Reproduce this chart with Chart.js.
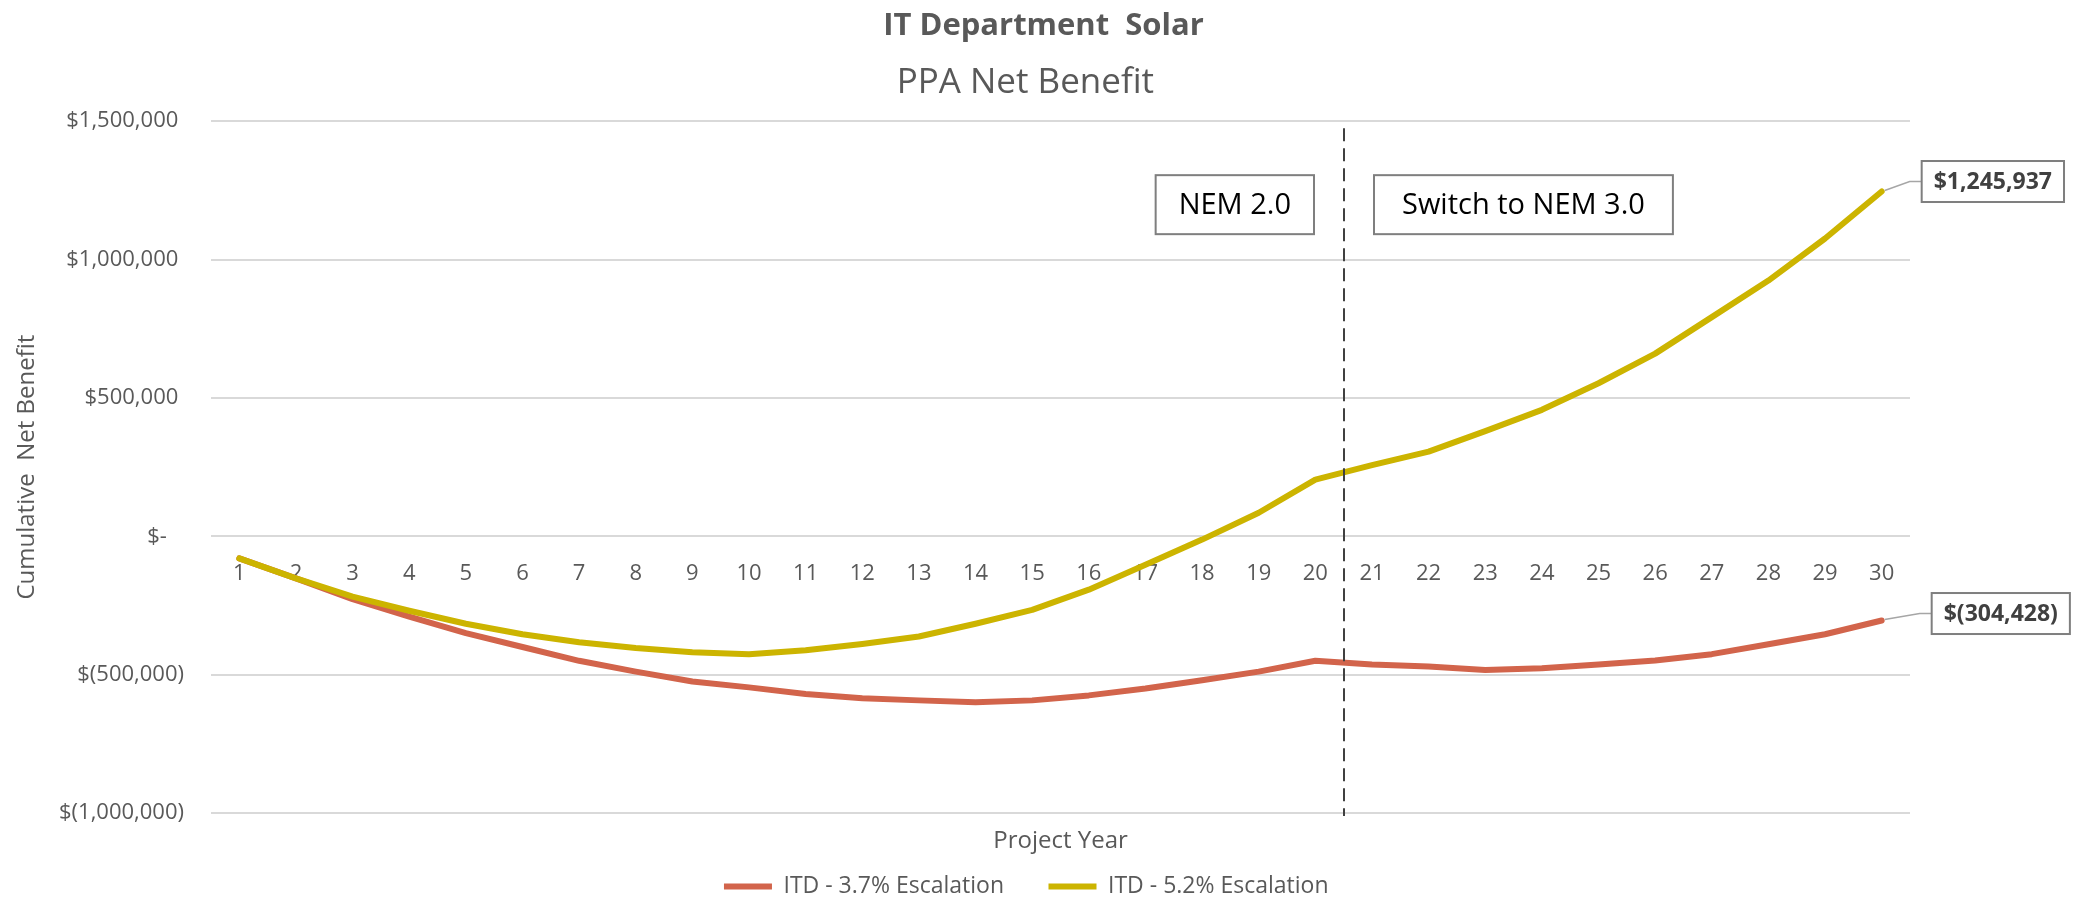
<!DOCTYPE html>
<html>
<head>
<meta charset="utf-8">
<title>IT Department Solar - PPA Net Benefit</title>
<script src="https://cdn.jsdelivr.net/npm/chart.js@4.4.1/dist/chart.umd.min.js"></script>
<style>
  html, body { margin: 0; padding: 0; background: #fff; overflow: hidden; }
  #wrap { width: 2087px; height: 897px; }
</style>
</head>
<body>
<div id="wrap"><canvas id="ppaChart" width="2087" height="897"></canvas></div>
<script>
// project years 1..30
const years = ['1','2','3','4','5','6','7','8','9','10','11','12','13','14','15',
               '16','17','18','19','20','21','22','23','24','25','26','27','28','29','30'];

// cumulative net benefit, 3.7% escalation
const esc37 = [-80000, -152000, -227000, -290000, -350000, -400000, -450000, -489000, -525000, -546000,
               -570000, -585000, -593000, -600000, -593000, -575000, -550000, -520000, -489000, -450000,
               -463000, -471000, -483000, -477000, -463000, -449000, -426000, -390000, -354000, -304428];

// cumulative net benefit, 5.2% escalation
const esc52 = [-80000, -152000, -218000, -269000, -316000, -354000, -383000, -404000, -419000, -426000,
               -412000, -389000, -362000, -316000, -266000, -193000, -103000, -12000, 85000, 205000,
               257000, 306000, 380000, 457000, 553000, 660000, 792000, 924000, 1076000, 1245937];

const seriesNames = ['ITD - 3.7% Escalation', 'ITD - 5.2% Escalation'];
const yMin = -1000000, yMax = 1500000, yStep = 500000;
const switchYear = '20';            // dashed line sits between year 20 and 21
const notes = ['NEM 2.0', 'Switch to NEM 3.0'];

const RED = '#D2644B';
const GOLD = '#CCB400';
const GREY = '#595959';
const FONT = "'Open Sans', 'Noto Sans', sans-serif";

Chart.defaults.font.family = FONT;
Chart.defaults.color = GREY;

function money(v) {
    if (v === 0) return '$-   ';
    const s = Math.abs(v).toLocaleString('en-US');
    return v < 0 ? '$(' + s + ')' : '$' + s + ' ';
}

function box(ctx, x, y, w, h, text, font, color) {
    ctx.fillStyle = '#ffffff';
    ctx.fillRect(x, y, w, h);
    ctx.strokeStyle = '#7F7F7F';
    ctx.lineWidth = 2;
    ctx.strokeRect(x, y, w, h);
    ctx.font = font;
    ctx.fillStyle = color;
    ctx.textAlign = 'center';
    ctx.textBaseline = 'middle';
    ctx.fillText(text, x + w / 2, y + h / 2 + 1);
}

// dashed divider, the two NEM boxes and the end-value call-outs
const notesPlugin = {
    id: 'nemNotes',
    afterDatasetsDraw(chart) {
        const {ctx, chartArea, scales: {x, y}} = chart;
        const i = years.indexOf(switchYear);
        const dx = Math.round((x.getPixelForValue(i) + x.getPixelForValue(i + 1)) / 2);

        ctx.save();
        ctx.strokeStyle = '#404040';
        ctx.lineWidth = 2;
        ctx.setLineDash([13, 7]);
        ctx.beginPath();
        ctx.moveTo(dx, chartArea.top + 7);
        ctx.lineTo(dx, chartArea.bottom + 3);
        ctx.stroke();
        ctx.setLineDash([]);

        const noteFont = '29px ' + FONT;
        ctx.font = noteFont;
        const top = y.getPixelForValue(1305000);
        const w1 = ctx.measureText(notes[0]).width + 46;
        const w2 = ctx.measureText(notes[1]).width + 56;
        box(ctx, dx - 30 - w1, top, w1, 59, notes[0], noteFont, '#000000');
        box(ctx, dx + 30, top, w2, 59, notes[1], noteFont, '#000000');

        // call-outs on the last point of each series
        const valFont = 'bold 23px ' + FONT;
        const calls = [
            {ds: 1, rise: 10, gap: 40},
            {ds: 0, rise: 7, gap: 50}
        ];
        calls.forEach(c => {
            const data = chart.data.datasets[c.ds].data;
            const pt = chart.getDatasetMeta(c.ds).data[data.length - 1];
            const text = money(data[data.length - 1]).trim();
            ctx.font = valFont;
            const w = ctx.measureText(text).width + 24;
            const bx = pt.x + c.gap, by = pt.y - c.rise;
            ctx.strokeStyle = '#A6A6A6';
            ctx.lineWidth = 1.5;
            ctx.beginPath();
            ctx.moveTo(pt.x + 3, pt.y - 1);
            ctx.lineTo(bx - 12, by);
            ctx.lineTo(bx, by);
            ctx.stroke();
            box(ctx, bx, by - 20.5, w, 41, text, valFont, '#404040');
        });
        ctx.restore();
    }
};

new Chart(document.getElementById('ppaChart'), {
    type: 'line',
    data: {
        labels: years,
        datasets: [
            {
                label: seriesNames[0],
                data: esc37,
                borderColor: RED,
                backgroundColor: RED,
                borderWidth: 6,
                pointRadius: 0,
                tension: 0,
                borderCapStyle: 'round',
                borderJoinStyle: 'round',
                order: 1
            },
            {
                label: seriesNames[1],
                data: esc52,
                borderColor: GOLD,
                backgroundColor: GOLD,
                borderWidth: 6,
                pointRadius: 0,
                tension: 0,
                borderCapStyle: 'round',
                borderJoinStyle: 'round',
                order: 0
            }
        ]
    },
    options: {
        responsive: false,
        animation: false,
        layout: { padding: { top: 0, left: 0, right: 0, bottom: -11 } },
        plugins: {
            title: {
                display: true,
                text: 'IT Department  Solar',
                color: GREY,
                font: { size: 31, weight: 'bold' },
                padding: { top: 8, bottom: 0 }
            },
            subtitle: {
                display: true,
                text: 'PPA Net Benefit    ',
                color: GREY,
                font: { size: 35 },
                padding: { top: 17, bottom: 17 }
            },
            legend: {
                position: 'bottom',
                labels: {
                    color: GREY,
                    font: { size: 23 },
                    boxWidth: 48,
                    boxHeight: 6,
                    padding: 10,
                    useBorderRadius: true,
                    borderRadius: 3,
                    generateLabels(chart) {
                        // en spaces keep the wide gap between the two entries
                        return chart.data.datasets.map((ds, i) => ({
                            text: ds.label + '\u2002\u2002\u2002',
                            fillStyle: ds.borderColor,
                            strokeStyle: ds.borderColor,
                            lineWidth: 0,
                            fontColor: GREY,
                            datasetIndex: i
                        }));
                    }
                }
            },
            tooltip: { enabled: false }
        },
        scales: {
            x: {
                type: 'category',
                position: { y: 0 },
                offset: true,
                grid: { display: false, drawTicks: false },
                border: { display: false },
                ticks: { color: GREY, font: { size: 22 }, padding: 24, maxRotation: 0, autoSkip: false },
                afterFit(scale) { scale.height = 0; }
            },
            x2: {
                type: 'category',
                position: 'bottom',
                offset: true,
                grid: { display: false, drawTicks: false },
                border: { display: false },
                ticks: { display: false },
                title: {
                    display: true,
                    text: 'Project Year',
                    color: GREY,
                    font: { size: 24, lineHeight: 1 },
                    padding: { top: 0, bottom: 12 }
                },
                afterFit(scale) { scale.height = 52; }
            },
            y: {
                min: yMin,
                max: yMax,
                position: 'left',
                grid: { color: '#D9D9D9', lineWidth: 2, drawTicks: false },
                border: { display: false },
                ticks: {
                    stepSize: yStep,
                    color: GREY,
                    font: { size: 22 },
                    padding: 27,
                    callback: v => money(v)
                },
                title: {
                    display: true,
                    text: 'Cumulative  Net Benefit',
                    color: GREY,
                    font: { size: 24 },
                    padding: { top: 13, bottom: 0 }
                },
                afterFit(scale) { scale.width = 211; }
            },
            yRight: {
                position: 'right',
                grid: { display: false, drawTicks: false },
                border: { display: false },
                ticks: { display: false },
                afterFit(scale) { scale.width = 177; }
            }
        }
    },
    plugins: [notesPlugin]
});
</script>
</body>
</html>
